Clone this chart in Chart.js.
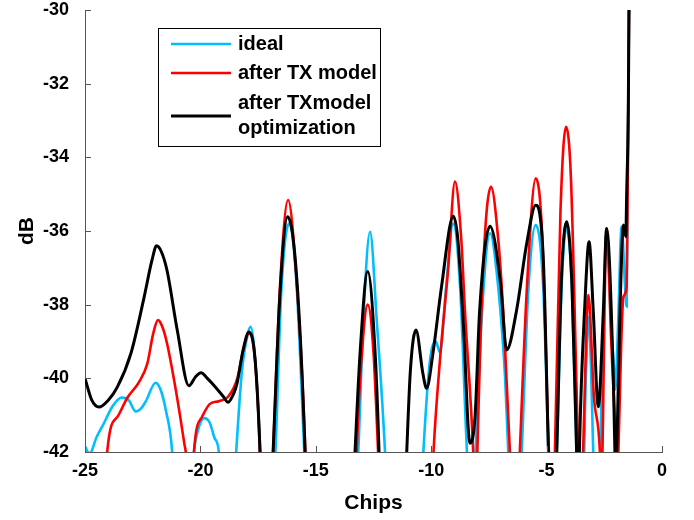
<!DOCTYPE html>
<html>
<head>
<meta charset="utf-8">
<script src="https://cdn.jsdelivr.net/npm/chart.js@4.4.1/dist/chart.umd.min.js"></script>
<style>
  html, body { margin: 0; padding: 0; background: #fff; }
  #wrap { width: 694px; height: 520px; }
</style>
</head>
<body>
<div id="wrap"><canvas id="chart" width="694" height="520"></canvas></div>
<script>
// values (dB vs chips); points under -42 run out of the plot
const idealX = [-25, -24.8, -24.5, -24.18, -23.8, -23.4, -23.1, -22.8, -22.55, -22.37, -21.94, -21.7, -21.5, -21.23, -21.1,
  -20.45, -20.28, -20.05, -19.84, -19.6, -19.4, -19.2, -19.05, -18.6, -18.45, -18.2, -17.95, -17.82, -17.65, -17.4, -17.3,
  -16.9, -16.75, -16.5, -16.16, -15.85, -15.5, -15.4, -13.3, -13.16, -12.94, -12.65, -12.36, -12.0, -11.9,
  -10.45, -10.34, -10.05, -9.8, -9.62, -9.35, -9.05, -8.75, -8.45, -8.3, -8.1, -7.8, -7.45, -7.1, -6.8, -6.66, -6.5,
  -6.2, -6.08, -5.8, -5.47, -5.15, -4.92, -4.85, -4.7, -4.56, -4.35, -4.13, -3.9, -3.7, -3.6,
  -3.45, -3.3, -3.19, -3.08, -2.98, -2.9, -2.75, -2.6, -2.4, -2.2, -2.1, -2.02, -1.9, -1.75, -1.6, -1.53, -1.48, -1.42];
const idealY = [-41.85, -42.05, -41.6, -41.22, -40.75, -40.52, -40.6, -40.9, -40.8, -40.63, -40.12, -40.35, -40.86, -41.95, -43.5,
  -43.5, -42.0, -41.3, -41.08, -41.2, -41.6, -42.0, -43.5, -43.5, -42.0, -39.8, -38.8, -38.6, -39.3, -42.0, -43.5,
  -43.5, -42.0, -37.7, -35.8, -37.3, -42.0, -43.5, -43.5, -42.0, -38.4, -36.02, -38.42, -42.0, -43.5,
  -43.5, -42.0, -39.5, -39.0, -39.3, -37.5, -35.8, -37.5, -42.0, -43.5, -42.2, -38.2, -36.06, -37.5, -39.96, -42.0, -43.5,
  -43.5, -42.0, -37.7, -35.84, -37.5, -42.0, -43.5, -43.5, -42.0, -37.5, -35.9, -37.6, -42.0, -43.5,
  -43.5, -40.0, -38.33, -39.6, -42.0, -43.5, -43.5, -40.0, -36.0, -38.6, -39.5, -40.3, -38.5, -35.88, -37.5, -38.05, -34.0, -29.0];

const txX = [-24.1, -24.03, -23.6, -23.18, -22.66, -22.3, -22.05, -21.84, -21.65, -21.45, -21.07, -20.7, -20.6, -20.5,
  -20.35, -20.28, -19.93, -19.6, -19.2, -18.8, -18.4, -18.15, -17.9, -17.63, -17.42, -17.35,
  -16.95, -16.85, -16.55, -16.2, -15.85, -15.45, -15.38, -13.3, -13.23, -13.0, -12.75, -12.5, -12.3, -12.2,
  -10.0, -9.9, -9.62, -9.27, -8.97, -8.7, -8.54, -8.18, -8.1, -8.05, -8.0, -7.74, -7.41, -7.1, -6.85, -6.59, -6.5,
  -6.25, -6.16, -5.85, -5.47, -5.2, -4.9, -4.8, -4.72, -4.64, -4.4, -4.16, -3.95, -3.63, -3.55,
  -3.5, -3.42, -3.19, -2.95, -2.69, -2.62, -2.58, -2.4, -2.2, -2.0, -1.95, -1.89, -1.67, -1.53, -1.47, -1.42];
const txY = [-43.5, -41.95, -41.05, -40.54, -40.1, -39.6, -38.8, -38.42, -38.6, -39.04, -40.3, -41.76, -42.2, -43.5,
  -43.5, -42.0, -41.05, -40.7, -40.62, -40.5, -40.0, -39.25, -38.78, -39.5, -42.0, -43.5,
  -43.5, -42.0, -37.5, -35.16, -37.2, -42.0, -43.5, -43.5, -42.0, -39.3, -38.0, -39.3, -42.0, -43.5,
  -43.5, -42.0, -39.5, -37.06, -34.66, -36.2, -38.15, -42.0, -43.5, -43.5, -42.0, -36.9, -34.8, -36.2, -38.5, -42.0, -43.5,
  -43.5, -42.0, -37.5, -34.57, -36.0, -42.0, -43.5, -43.5, -42.0, -35.5, -33.17, -34.5, -42.0, -43.5,
  -43.5, -42.0, -37.74, -40.5, -42.0, -43.5, -42.0, -35.93, -39.0, -42.0, -43.5, -42.0, -37.78, -37.5, -33.5, -29.0];

const optX = [-25, -24.7, -24.39, -24.0, -23.6, -23.0, -22.44, -22.1, -21.9, -21.7, -21.45, -21.0, -20.5, -20.2, -19.97,
  -19.7, -19.4, -19.0, -18.8, -18.55, -18.41, -18.15, -17.9, -17.63, -17.42, -17.35,
  -16.95, -16.85, -16.55, -16.22, -15.83, -15.47, -15.4, -13.4, -13.3, -13.08, -12.75, -12.43, -12.26, -12.2,
  -11.15, -11.06, -10.9, -10.66, -10.36, -10.2, -9.92, -9.55, -9.04, -8.85, -8.6, -8.32, -8.1, -7.9, -7.45,
  -7.0, -6.73, -6.3, -5.86, -5.47, -5.14, -4.92, -4.85, -4.63, -4.56, -4.35, -4.13, -3.9, -3.7, -3.62,
  -3.58, -3.34, -3.16, -2.98, -2.76, -2.54, -2.4, -2.11, -2.04, -2.0, -1.96, -1.82, -1.67, -1.57, -1.53, -1.46, -1.42];
const optY = [-40.0, -40.6, -40.78, -40.6, -40.24, -39.3, -37.8, -36.8, -36.4, -36.55, -37.06, -38.7, -40.2, -39.95, -39.85,
  -40.0, -40.2, -40.5, -40.65, -40.4, -40.13, -39.23, -38.74, -39.5, -41.95, -43.5,
  -43.5, -42.0, -37.68, -35.61, -37.24, -41.9, -43.5, -43.5, -42.0, -39.3, -37.1, -39.3, -42.0, -43.5,
  -43.5, -42.0, -39.77, -38.69, -39.87, -40.27, -39.3, -37.5, -35.6, -36.2, -38.6, -41.76, -41.04, -38.15, -35.87,
  -37.4, -39.23, -38.15, -36.33, -35.3, -36.8, -42.0, -43.5, -43.5, -42.0, -37.2, -35.75, -37.5, -42.0, -43.5,
  -42.0, -37.96, -36.29, -38.15, -40.77, -38.15, -35.93, -39.96, -42.0, -43.5, -42.0, -38.15, -35.84, -36.15, -34.97, -32.7, -29.0];

const seriesLabels = ['ideal', 'after TX model', 'after TXmodel optimization'];
const legendLines = [['ideal'], ['after TX model'], ['after TXmodel', 'optimization']];
const xTicks = [-25, -20, -15, -10, -5, 0];
const yTicks = [-42, -40, -38, -36, -34, -32, -30];

const colors = ['#00BFFF', '#FF0000', '#000000'];

function pts(xs, ys) {
  return xs.map((x, i) => ({ x: x, y: ys[i] }));
}

const FONT = "'Liberation Sans', Arial, Helvetica, sans-serif";

const innerTicks = {
  id: 'innerTicks',
  afterDraw(chart) {
    const ctx = chart.ctx;
    const area = chart.chartArea;
    const xs = chart.scales.x, ys = chart.scales.y;
    ctx.save();
    ctx.strokeStyle = '#555';
    ctx.lineWidth = 1;
    ctx.beginPath();
    yTicks.forEach(v => {
      const p = Math.round(ys.getPixelForValue(v)) + 0.5;
      ctx.moveTo(area.left, p);
      ctx.lineTo(area.left + 6, p);
    });
    xTicks.forEach(v => {
      const p = Math.round(xs.getPixelForValue(v)) + 0.5;
      ctx.moveTo(p, area.bottom);
      ctx.lineTo(p, area.bottom - 6);
    });
    ctx.stroke();
    ctx.restore();
  }
};

const boxLegend = {
  id: 'boxLegend',
  afterDraw(chart) {
    const ctx = chart.ctx;
    const box = { l: 158, t: 28, r: 380, b: 146 };
    const rows = [[44], [73], [103, 128]];
    const lineY = [44, 73, 116];
    ctx.save();
    ctx.fillStyle = '#fff';
    ctx.fillRect(box.l, box.t, box.r - box.l, box.b - box.t);
    ctx.strokeStyle = '#000';
    ctx.lineWidth = 1;
    ctx.strokeRect(box.l + 0.5, box.t + 0.5, box.r - box.l, box.b - box.t);
    ctx.font = 'bold 20px ' + FONT;
    ctx.textBaseline = 'middle';
    ctx.textAlign = 'left';
    chart.data.datasets.forEach((ds, i) => {
      ctx.strokeStyle = ds.borderColor;
      ctx.lineWidth = ds.borderWidth;
      ctx.beginPath();
      ctx.moveTo(171, lineY[i]);
      ctx.lineTo(231, lineY[i]);
      ctx.stroke();
      ctx.fillStyle = '#000';
      legendLines[i].forEach((t, k) => ctx.fillText(t, 238, rows[i][k]));
    });
    ctx.restore();
  }
};

new Chart(document.getElementById('chart').getContext('2d'), {
  type: 'line',
  data: {
    datasets: [
      { label: seriesLabels[0], data: pts(idealX, idealY), borderColor: colors[0], borderWidth: 2.6, order: 3 },
      { label: seriesLabels[1], data: pts(txX, txY), borderColor: colors[1], borderWidth: 2.6, order: 2 },
      { label: seriesLabels[2], data: pts(optX, optY), borderColor: colors[2], borderWidth: 3, order: 1 }
    ]
  },
  options: {
    responsive: false,
    animation: false,
    layout: { padding: { top: 10, right: 32, left: 0, bottom: 0 } },
    elements: {
      point: { radius: 0 },
      line: { cubicInterpolationMode: 'monotone', fill: false }
    },
    plugins: {
      legend: { display: false },
      tooltip: { enabled: false }
    },
    scales: {
      x: {
        type: 'linear',
        min: -25,
        max: 0,
        afterBuildTicks: s => { s.ticks = xTicks.map(v => ({ value: v })); },
        afterFit: s => { s.height = 68; s.paddingLeft = 0; s.paddingRight = 0; },
        grid: { display: false, drawTicks: false },
        border: { display: true, color: '#555', width: 1 },
        ticks: { color: '#000', padding: 8, font: { family: FONT, size: 18, weight: 'bold' } },
        title: { display: true, text: 'Chips', color: '#000', padding: { top: 0, bottom: 4 },
          font: { family: FONT, size: 21, weight: 'bold' } }
      },
      y: {
        type: 'linear',
        min: -42,
        max: -30,
        afterBuildTicks: s => { s.ticks = yTicks.map(v => ({ value: v })); },
        afterFit: s => { s.width = 85; s.paddingTop = 0; s.paddingBottom = 0; },
        grid: { display: false, drawTicks: false },
        border: { display: true, color: '#555', width: 1 },
        ticks: { color: '#000', padding: 16, font: { family: FONT, size: 18, weight: 'bold' } },
        title: { display: true, text: 'dB', color: '#000', padding: { top: 15, bottom: 0 },
          font: { family: FONT, size: 21, weight: 'bold' } }
      }
    }
  },
  plugins: [innerTicks, boxLegend]
});
</script>
</body>
</html>
